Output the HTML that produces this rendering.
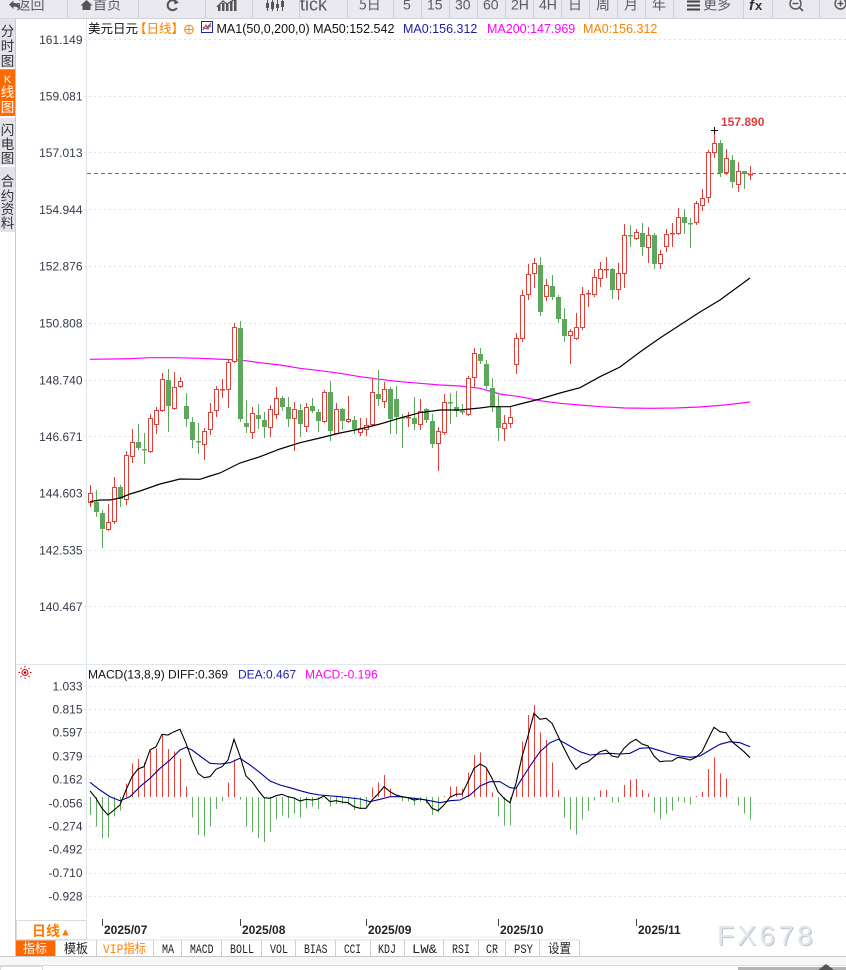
<!DOCTYPE html>
<html><head><meta charset="utf-8">
<style>
html,body{margin:0;padding:0;background:#fff;width:846px;height:970px;overflow:hidden}
svg{display:block}
text{font-family:"Liberation Sans","Noto Sans CJK SC",sans-serif}
.cj{font-family:"Noto Sans CJK SC","WenQuanYi Zen Hei",sans-serif}
.mono{font-family:"Liberation Mono","Noto Sans CJK SC",monospace}
</style></head><body>
<svg id="s" width="846" height="970" viewBox="0 0 846 970" xmlns="http://www.w3.org/2000/svg">
<!-- toolbar -->
<rect x="0" y="0" width="846" height="18.5" fill="#e9e9ef"/>
<line x1="0" y1="18.5" x2="846" y2="18.5" stroke="#d2d2da"/>
<g stroke="#cfcfd7" stroke-width="1">
<line x1="67.5" y1="0" x2="67.5" y2="18"/><line x1="138.5" y1="0" x2="138.5" y2="18"/>
<line x1="205.5" y1="0" x2="205.5" y2="18"/><line x1="252.5" y1="0" x2="252.5" y2="18"/>
<line x1="299.5" y1="0" x2="299.5" y2="18"/><line x1="347.5" y1="0" x2="347.5" y2="18"/>
<line x1="393.5" y1="0" x2="393.5" y2="18"/><line x1="421.5" y1="0" x2="421.5" y2="18"/>
<line x1="449.5" y1="0" x2="449.5" y2="18"/><line x1="477.5" y1="0" x2="477.5" y2="18"/>
<line x1="505.5" y1="0" x2="505.5" y2="18"/><line x1="533.5" y1="0" x2="533.5" y2="18"/>
<line x1="561.5" y1="0" x2="561.5" y2="18"/><line x1="589.5" y1="0" x2="589.5" y2="18"/>
<line x1="617.5" y1="0" x2="617.5" y2="18"/><line x1="645.5" y1="0" x2="645.5" y2="18"/>
<line x1="673.5" y1="0" x2="673.5" y2="18"/><line x1="743.5" y1="0" x2="743.5" y2="18"/>
<line x1="772.5" y1="0" x2="772.5" y2="18"/><line x1="819.5" y1="0" x2="819.5" y2="18"/>
</g>
<g fill="#5a5a60" font-size="14">
<path d="M9,4.5 L13.5,0.5 L13.5,3 Q20,2.5 20,10 Q18,6.5 13.5,6.5 L13.5,9 Z" fill="#555"/>
<text x="16.5" y="9.5" class="cj">返回</text>
<path d="M80.5,5.5 L86.5,0 L92.5,5.5 L90.5,5.5 L90.5,10 L82.5,10 L82.5,5.5 Z" fill="#555"/>
<text x="93" y="9.5" class="cj">首页</text>
<path d="M176.5,2 A5,5 0 1 0 176.8,8" fill="none" stroke="#555" stroke-width="2"/>
<path d="M174,-1 L179,2.5 L174.5,4.5 Z" fill="#555"/>
<g fill="#555"><rect x="218" y="5" width="2.5" height="6"/><rect x="222" y="3" width="2.5" height="8"/><rect x="226" y="4" width="2.5" height="7"/><rect x="230" y="1" width="2.5" height="10"/><rect x="234" y="0" width="2.5" height="11"/></g>
<path d="M217,7 L223,1 L227,4 L237,-2" stroke="#555" stroke-width="1.3" fill="none"/>
<g stroke="#555" stroke-width="1"><line x1="267.5" y1="0" x2="267.5" y2="11"/><line x1="272.5" y1="0" x2="272.5" y2="11"/><line x1="277.5" y1="0" x2="277.5" y2="11"/><line x1="282.5" y1="0" x2="282.5" y2="11"/></g>
<g fill="#555"><rect x="266" y="3" width="3" height="5"/><rect x="271" y="2" width="3" height="7"/><rect x="276" y="4" width="3" height="4"/><rect x="281" y="1" width="3" height="6"/></g>
<text x="300" y="10.5" font-size="18">tick</text>
<text x="359" y="9.5" class="cj">5日</text>
<text x="403" y="9.5">5</text>
<text x="427" y="9.5">15</text>
<text x="455" y="9.5">30</text>
<text x="483" y="9.5">60</text>
<text x="511" y="9.5">2H</text>
<text x="539" y="9.5">4H</text>
<text x="568" y="9.5" class="cj">日</text>
<text x="596" y="9.5" class="cj">周</text>
<text x="624" y="9.5" class="cj">月</text>
<text x="652" y="9.5" class="cj">年</text>
<g stroke="#444" stroke-width="2"><line x1="687" y1="1.5" x2="700" y2="1.5"/><line x1="687" y1="5.5" x2="700" y2="5.5"/><line x1="687" y1="9.5" x2="700" y2="9.5"/></g>
<text x="703" y="9.5" class="cj">更多</text>
<text x="749" y="10" font-size="15" font-weight="bold" font-style="italic" font-family="Liberation Serif" fill="#333">f</text>
<text x="755" y="10" font-size="13" font-weight="bold" fill="#333">x</text>
<circle cx="795.5" cy="3.5" r="5.5" fill="none" stroke="#555" stroke-width="1.4"/>
<line x1="792.5" y1="3.5" x2="798.5" y2="3.5" stroke="#555" stroke-width="1.4"/>
<line x1="799.5" y1="7.5" x2="803" y2="11" stroke="#555" stroke-width="1.6"/>
<circle cx="840.5" cy="3.5" r="5.5" fill="none" stroke="#555" stroke-width="1.4"/>
<line x1="837.5" y1="3.5" x2="843.5" y2="3.5" stroke="#555" stroke-width="1.4"/>
<line x1="840.5" y1="0.5" x2="840.5" y2="6.5" stroke="#555" stroke-width="1.4"/>
</g>

<!-- sidebar -->
<rect x="0" y="19" width="15" height="213" fill="#e2e2ea"/>
<rect x="0" y="69" width="15" height="47" fill="#ff6a00"/>
<g stroke="#fff" stroke-width="1.5"><line x1="0" y1="68.5" x2="15" y2="68.5"/><line x1="0" y1="117" x2="15" y2="117"/><line x1="0" y1="166" x2="15" y2="166"/></g>
<g font-size="13.5" fill="#333" class="cj" text-anchor="middle">
<text x="7.5" y="36" class="cj">分</text><text x="7.5" y="51" class="cj">时</text><text x="7.5" y="66" class="cj">图</text>
<text x="7.5" y="83" fill="#fff" font-family="Liberation Serif" font-size="11">K</text><text x="7.5" y="97" class="cj" fill="#fff">线</text><text x="7.5" y="112" class="cj" fill="#fff">图</text>
<text x="7.5" y="135" class="cj">闪</text><text x="7.5" y="149" class="cj">电</text><text x="7.5" y="163" class="cj">图</text>
<text x="7.5" y="186" class="cj">合</text><text x="7.5" y="201" class="cj">约</text><text x="7.5" y="214" class="cj">资</text><text x="7.5" y="228" class="cj">料</text>
</g>
<line x1="15.5" y1="19" x2="15.5" y2="956" stroke="#c9c9d2"/>

<!-- axis line -->
<line x1="86.5" y1="19" x2="86.5" y2="918" stroke="#dde3ea"/>

<!-- main grid -->
<g stroke="#e2e2e2" stroke-dasharray="2 3">
<line x1="84" y1="39.5" x2="846" y2="39.5"/><line x1="84" y1="96.5" x2="846" y2="96.5"/>
<line x1="84" y1="152.5" x2="846" y2="152.5"/><line x1="84" y1="209.5" x2="846" y2="209.5"/>
<line x1="84" y1="266.5" x2="846" y2="266.5"/><line x1="84" y1="323.5" x2="846" y2="323.5"/>
<line x1="84" y1="380.5" x2="846" y2="380.5"/><line x1="84" y1="436.5" x2="846" y2="436.5"/>
<line x1="84" y1="493.5" x2="846" y2="493.5"/><line x1="84" y1="550.5" x2="846" y2="550.5"/>
<line x1="84" y1="606.5" x2="846" y2="606.5"/>
</g>
<g font-size="12" fill="#333a48" text-anchor="end">
<text x="82.5" y="44">161.149</text><text x="82.5" y="100.5">159.081</text>
<text x="82.5" y="157">157.013</text><text x="82.5" y="214">154.944</text>
<text x="82.5" y="270.5">152.876</text><text x="82.5" y="327.5">150.808</text>
<text x="82.5" y="384.5">148.740</text><text x="82.5" y="441">146.671</text>
<text x="82.5" y="497.5">144.603</text><text x="82.5" y="554.5">142.535</text>
<text x="82.5" y="611">140.467</text>
</g>

<!-- main header -->
<g font-size="12.5">
<text x="88" y="33" class="cj" fill="#111">美元日元</text>
<text x="134" y="33" class="cj" fill="#ff7f00">【日线】</text>
<circle cx="189" cy="29.5" r="4.3" fill="none" stroke="#ff8a1a" stroke-width="1.1"/>
<line x1="184.7" y1="29.5" x2="193.3" y2="29.5" stroke="#ff8a1a"/><line x1="189" y1="25.2" x2="189" y2="33.8" stroke="#ff8a1a"/>
<rect x="201.5" y="21.5" width="11" height="11" fill="#fff" stroke="#1a2a9a"/>
<path d="M203,30 L206,25 L208,29 L211,23" stroke="#e02020" fill="none" stroke-width="1"/>
<path d="M203,27 L206,29 L209,25 L211,27" stroke="#2040d0" fill="none" stroke-width="0.8"/>
<text x="216.5" y="33" fill="#111">MA1(50,0,200,0) MA50:152.542</text>
<text x="403" y="33" fill="#1c1ca8">MA0:156.312</text>
<text x="487" y="33" fill="#ff00ff">MA200:147.969</text>
<text x="583" y="33" fill="#ff8000">MA0:156.312</text>
</g>

<!-- current price dashed -->
<line x1="87" y1="173.5" x2="846" y2="173.5" stroke="#2a7de1" stroke-dasharray="4 3"/>

<!-- MACD separator & grid -->
<line x1="16" y1="664.5" x2="846" y2="664.5" stroke="#e0e6ee"/>
<g stroke="#e2e2e2" stroke-dasharray="2 3">
<line x1="84" y1="686.5" x2="846" y2="686.5"/><line x1="84" y1="709.5" x2="846" y2="709.5"/>
<line x1="84" y1="732.5" x2="846" y2="732.5"/><line x1="84" y1="756.5" x2="846" y2="756.5"/>
<line x1="84" y1="779.5" x2="846" y2="779.5"/><line x1="84" y1="803.5" x2="846" y2="803.5"/>
<line x1="84" y1="826.5" x2="846" y2="826.5"/><line x1="84" y1="849.5" x2="846" y2="849.5"/>
<line x1="84" y1="873.5" x2="846" y2="873.5"/><line x1="84" y1="896.5" x2="846" y2="896.5"/>
</g>
<g font-size="12" fill="#333a48" text-anchor="end">
<text x="82.5" y="690.5">1.033</text><text x="82.5" y="713.5">0.815</text>
<text x="82.5" y="736.5">0.597</text><text x="82.5" y="760.5">0.379</text>
<text x="82.5" y="783.5">0.162</text><text x="82.5" y="807.5">-0.056</text>
<text x="82.5" y="830.5">-0.274</text><text x="82.5" y="853.5">-0.492</text>
<text x="82.5" y="877">-0.710</text><text x="82.5" y="900.5">-0.928</text>
</g>
<!-- sun icon -->
<g stroke="#e00000" stroke-width="1">
<circle cx="25" cy="672.5" r="3" fill="none"/>
<line x1="25" y1="666" x2="25" y2="667.5"/><line x1="25" y1="677.5" x2="25" y2="679"/>
<line x1="18.5" y1="672.5" x2="20" y2="672.5"/><line x1="30" y1="672.5" x2="31.5" y2="672.5"/>
<line x1="20.5" y1="668" x2="21.5" y2="669"/><line x1="28.5" y1="676" x2="29.5" y2="677"/>
<line x1="29.5" y1="668" x2="28.5" y2="669"/><line x1="21.5" y1="676" x2="20.5" y2="677"/>
</g>
<circle cx="25" cy="672.5" r="1.3" fill="#900"/>
<g font-size="12">
<text x="88" y="678.5" fill="#111">MACD(13,8,9) DIFF:0.369</text>
<text x="238" y="678.5" fill="#1c1ca8">DEA:0.467</text>
<text x="305" y="678.5" fill="#ff00ff">MACD:-0.196</text>
</g>

<g id="plot"></g>

<!-- high label -->
<g stroke="#111" stroke-width="1"><line x1="711" y1="130.5" x2="718" y2="130.5"/><line x1="714.5" y1="127" x2="714.5" y2="134"/></g>
<text x="721" y="126" font-size="12" font-weight="bold" fill="#e0403a">157.890</text>

<!-- time axis -->
<rect x="16.5" y="920.5" width="70" height="19" fill="#fff" stroke="#dcdcdc"/>
<text x="32" y="936" class="cj" font-size="14" fill="#ff7a00" font-weight="bold">日线</text>
<text x="60" y="935.5" font-size="11" fill="#ff7a00">▲</text>
<g stroke="#444"><line x1="102.5" y1="919" x2="102.5" y2="926"/><line x1="240.5" y1="919" x2="240.5" y2="926"/><line x1="366.5" y1="919" x2="366.5" y2="926"/><line x1="498.5" y1="919" x2="498.5" y2="926"/><line x1="636.5" y1="919" x2="636.5" y2="926"/></g>
<line x1="160" y1="937" x2="510" y2="937" stroke="#ececec"/>
<g font-size="12" font-weight="bold" fill="#222">
<text x="104" y="934">2025/07</text><text x="242" y="934">2025/08</text><text x="368" y="934">2025/09</text><text x="500" y="934">2025/10</text><text x="638" y="934">2025/11</text>
</g>
<text x="717" y="945" font-size="28" fill="#bcc5d1" letter-spacing="3.3" transform="translate(1,1)">FX678</text>
<text x="717" y="945" font-size="28" fill="#e2e6ec" letter-spacing="3.3">FX678</text>

<!-- tabs -->
<rect x="16" y="940" width="563" height="16" fill="#fff"/>
<rect x="16" y="940" width="39.5" height="16" fill="#ff6600"/>
<line x1="16" y1="940" x2="579" y2="940" stroke="#dcdcdc"/>
<g stroke="#d0d0d0">
<line x1="55.5" y1="940" x2="55.5" y2="956"/><line x1="96.5" y1="940" x2="96.5" y2="956"/><line x1="153.5" y1="940" x2="153.5" y2="956"/>
<line x1="181.5" y1="940" x2="181.5" y2="956"/><line x1="221.5" y1="940" x2="221.5" y2="956"/><line x1="261.5" y1="940" x2="261.5" y2="956"/>
<line x1="295.5" y1="940" x2="295.5" y2="956"/><line x1="335.5" y1="940" x2="335.5" y2="956"/><line x1="370.5" y1="940" x2="370.5" y2="956"/>
<line x1="404.5" y1="940" x2="404.5" y2="956"/><line x1="443.5" y1="940" x2="443.5" y2="956"/><line x1="478.5" y1="940" x2="478.5" y2="956"/>
<line x1="505.5" y1="940" x2="505.5" y2="956"/><line x1="539.5" y1="940" x2="539.5" y2="956"/><line x1="579.5" y1="940" x2="579.5" y2="956"/>
</g>
<g font-size="13" fill="#222">
<text x="23" y="953" class="cj" fill="#fff" textLength="24" lengthAdjust="spacingAndGlyphs">指标</text>
<text x="64" y="953" class="cj" textLength="24" lengthAdjust="spacingAndGlyphs">模板</text>
<text x="103" y="953" class="mono" fill="#ff7f00" textLength="43" lengthAdjust="spacingAndGlyphs">VIP指标</text>
<text x="162" y="953" class="mono" textLength="12" lengthAdjust="spacingAndGlyphs">MA</text>
<text x="190" y="953" class="mono" textLength="23.5" lengthAdjust="spacingAndGlyphs">MACD</text>
<text x="230" y="953" class="mono" textLength="24" lengthAdjust="spacingAndGlyphs">BOLL</text>
<text x="270" y="953" class="mono" textLength="18" lengthAdjust="spacingAndGlyphs">VOL</text>
<text x="304" y="953" class="mono" textLength="23.5" lengthAdjust="spacingAndGlyphs">BIAS</text>
<text x="344" y="953" class="mono" textLength="17" lengthAdjust="spacingAndGlyphs">CCI</text>
<text x="378" y="953" class="mono" textLength="18" lengthAdjust="spacingAndGlyphs">KDJ</text>
<text x="412" y="953" class="mono" textLength="25" lengthAdjust="spacingAndGlyphs">LW&amp;</text>
<text x="452" y="953" class="mono" textLength="18" lengthAdjust="spacingAndGlyphs">RSI</text>
<text x="486" y="953" class="mono" textLength="12" lengthAdjust="spacingAndGlyphs">CR</text>
<text x="514" y="953" class="mono" textLength="19" lengthAdjust="spacingAndGlyphs">PSY</text>
<text x="548" y="953" class="cj" textLength="23" lengthAdjust="spacingAndGlyphs">设置</text>
</g>
<line x1="0" y1="956.5" x2="846" y2="956.5" stroke="#c8c8c8"/>
<rect x="0" y="957" width="846" height="8" fill="#f7f7f7"/>
<line x1="0" y1="965.5" x2="846" y2="965.5" stroke="#dcdcdc"/>
<rect x="0.5" y="966.5" width="42" height="5" fill="#fff" stroke="#d8d8d8"/>
<rect x="738" y="967" width="108" height="4" fill="#b4b4b4"/>
<path d="M818,970 L826,964 L834,970 Z" fill="#555"/>
</svg>
<script>
(function(){
var NS='http://www.w3.org/2000/svg';
var g=document.getElementById('plot');
function el(t,a){var e=document.createElementNS(NS,t);for(var k in a)e.setAttribute(k,a[k]);g.appendChild(e);return e;}
var R='#e0403a',G='#5da85d';
var K=[['r',493,502,485,506],['g',502,512,490,516],['g',513,529,510,547],['r',522,529,504,530],['r',487,521,477,523],
['g',487,499,485,506],['r',455,499,451,504],['r',442,456,429,462],['g',442,448,424,449],['g',449,450,433,463],
['r',418,451,414,452],['r',410,424,407,433],['r',379,410,373,411],['g',380,406,369,431],['r',387,408,372,409],
['r',381,386,377,387],['g',406,419,393,426],['g',422,440,417,447],['g',441,442,423,453],['r',431,444,428,459],
['r',412,429,403,434],['r',389,410,386,416],['r',389,390,379,397],['r',362,389,360,407],['r',327,361,323,362],
['g',328,419,321,421],['g',423,427,400,432],['r',413,432,407,438],['g',415,419,404,428],['g',420,427,412,437],
['r',409,427,405,436],['r',398,414,387,418],['g',398,407,396,410],['g',407,419,397,426],['r',409,418,402,450],
['g',410,424,404,436],['r',407,426,403,431],['g',406,411,398,412],['g',412,421,409,431],['r',392,421,390,422],
['g',392,431,381,440],['r',409,433,403,433],['g',409,421,408,429],['r',419,421,396,422],['g',420,429,416,433],
['r',428,432,418,435],['r',425,429,418,435],['r',392,424,378,425],['g',394,399,370,405],['r',389,401,382,407],
['g',389,419,387,433],['g',399,417,386,433],['g',417,418,414,447],['r',417,418,412,426],['g',418,424,397,429],
['r',411,424,399,429],['g',409,420,408,422],['g',421,444,414,447],['r',431,443,427,470],['r',402,432,394,434],
['g',402,403,393,423],['g',407,411,391,416],['g',411,412,404,414],['r',378,414,376,415],['r',353,377,348,386],
['g',354,361,348,363],['g',364,386,360,388],['g',388,407,378,411],['g',407,428,395,440],['r',423,428,415,440],
['r',417,423,406,427],['r',338,364,333,373],['r',295,338,290,341],['r',274,294,264,299],['r',263,273,258,287],
['g',265,312,257,315],['r',285,296,279,300],['g',286,297,275,299],['g',297,319,295,322],['g',319,336,308,341],
['r',331,335,329,363],['r',327,338,313,339],['r',294,327,287,329],['r',293,294,290,306],['r',277,294,269,296],
['r',269,278,262,286],['r',269,270,257,277],['g',269,290,268,298],['r',273,289,263,299],['r',235,273,224,287],
['g',235,236,225,246],['r',232,238,229,239],['g',233,247,223,255],['r',235,247,227,262],['g',235,264,233,268],
['r',254,263,250,268],['r',234,246,229,251],['r',233,234,223,246],['r',217,233,208,234],['g',217,223,209,233],
['g',223,224,218,247],['r',203,222,201,224],['r',198,205,189,210],['r',152,197,150,202],['r',143,152,129,157],
['g',143,173,140,176],['r',158,172,149,174],['g',160,182,155,187],['r',171,184,162,191],['g',171,174,171,188],
['r',174,175,166,179]];
var H=[815,826.7,838.7,837.7,816.7,810.7,783.3,763.3,759,762.3,
750.7,748.3,735,749,751.7,758.3,786.7,817.7,835,836.7,
826.7,809,801,782.7,759.3,799.3,826.7,832.7,838,842,
832,819.3,815.7,818,813.3,817.3,808.3,806.7,809,795.7,
806.7,804,804,805,810,809,806.7,787.3,782.3,775,
788.3,795.7,801,801.7,805.7,801.7,803.3,815,812.7,796,
786.7,786.7,788.3,772.7,755,752.7,769.3,792.7,816.7,825.7,
825.7,788.3,741.7,715,705,732.7,740,762.7,790,817.3,
829.3,834.3,819.3,811,800.7,790.7,790,802.7,802.7,785,
780,779,790,793.3,812.7,819.3,813.3,810.7,801.7,802.7,
804.3,796,792,769,757.3,773.3,778.3,797.3,805.7,813.3,819.3];
var D=[791,798.3,808.3,815,810,805,790,776.7,769,766.7,
750,746.7,734.3,735,731.7,729.3,743.3,760,773.3,777.7,
776.7,769.3,766.7,760,739.3,756,776,781.7,790,797.7,
798.3,795.7,794.3,796.7,798,801,799.3,800,799,796,
801.7,800.7,802,802.7,806.7,808.3,808.3,800,794,786.7,
791.7,795,796.7,797.7,800,799,800,808.3,810.7,805,
797.3,794.3,794,781.7,768.3,764,767.3,778.3,791.7,798.3,
802.7,783.3,756.7,736,713.3,719.3,718.3,723.3,736,748.3,
760,769.3,764,761.7,756.7,751.7,750,756,757.3,748.3,
742.7,739.3,744,746,756,761.7,761,761,757.3,758.3,
760,757.3,751.7,739.3,727.3,731.7,732.7,741.7,746.7,751.7,757.7];
var DEA="90,782.3 100,790 110,796.7 120,800.7 130,796.7 140,786.7 150,778.3 160,768.3 170,760 180,750 186,747.3 192,750 200,756 210,763.3 220,764 230,762.7 240,758.3 250,765 260,772.7 270,781 280,785 290,787.7 300,790.7 310,793.3 320,795 340,796.7 360,799 370,801.7 380,799.3 390,796.7 400,796.7 420,799 430,800.7 440,802.7 450,800.7 460,800 470,795 480,786 490,781.7 500,781.7 510,787.7 516,788.3 520,781.7 530,766 540,751.7 550,742.7 558,739.3 570,746 580,751.7 590,755 600,754 610,753.3 620,754 630,753.3 640,748.3 650,747.7 660,750.7 670,754 680,756 690,757.3 700,756 710,750 720,744.3 730,741.7 740,742.7 750,746.7";
var MA50="90,501.7 100,500 110,500 120,498 130,494 140,491 160,484 180,479 200,479.3 210,476 220,473 240,463 260,456.7 280,449 300,442.7 320,438 340,433 360,429 380,424 400,418 420,412.7 440,410 460,410 480,408 490,406.7 510,406.7 520,404 540,399 560,393 580,387.7 600,376.7 620,367 640,352 660,338 680,325 700,312 720,300 735,289 750,278";
var MA200="90,359.3 130,358.7 150,357.7 175,357.7 200,358.3 215,359 240,360 250,361.3 260,362.7 280,365 300,368.3 320,370.7 340,373.3 360,376.7 380,379.3 400,381.7 420,383.3 440,385 460,386 480,388.3 500,394 520,396.7 540,400.7 560,403.3 580,405 600,406.7 625,408 650,408.3 675,408 700,407 725,405 750,402";
el('polyline',{points:MA200,fill:'none',stroke:'#ff00ff','stroke-width':1.2});
for(var i=0;i<K.length;i++){
  var c=K[i],cx=90+6*i+0.5,col=c[0]=='r'?R:G;
  el('line',{x1:cx,x2:cx,y1:c[3],y2:c[4]+1,stroke:col,'stroke-width':1,'shape-rendering':'crispEdges'});
  var T=c[1],B=c[2];
  if(c[0]=='r'){
    if(B-T<=1){el('line',{x1:cx-2.5,x2:cx+2.5,y1:T+0.5,y2:T+0.5,stroke:col,'stroke-width':1.5,'shape-rendering':'crispEdges'});}
    else el('rect',{x:cx-2,y:T+0.5,width:4,height:B-T,fill:'#fff',stroke:col,'stroke-width':1,'shape-rendering':'crispEdges'});
  }else{
    el('rect',{x:cx-2.5,y:T,width:5,height:Math.max(B-T,1.5),fill:col,'shape-rendering':'crispEdges'});
  }
}
el('polyline',{points:MA50,fill:'none',stroke:'#000','stroke-width':1.2});
for(var j=0;j<H.length;j++){
  var x=90+6*j+0.5,v=H[j];
  el('line',{x1:x,x2:x,y1:797,y2:v,stroke:v<797?'#e8403a':'#5fae5f','stroke-width':1.2,'shape-rendering':'crispEdges'});
}
var p=[];for(var k=0;k<D.length;k++)p.push((90+6*k)+','+D[k]);
el('polyline',{points:DEA,fill:'none',stroke:'#0000a0','stroke-width':1.1});
el('polyline',{points:p.join(' '),fill:'none',stroke:'#000','stroke-width':1.1});
})();
</script>
</body></html>
